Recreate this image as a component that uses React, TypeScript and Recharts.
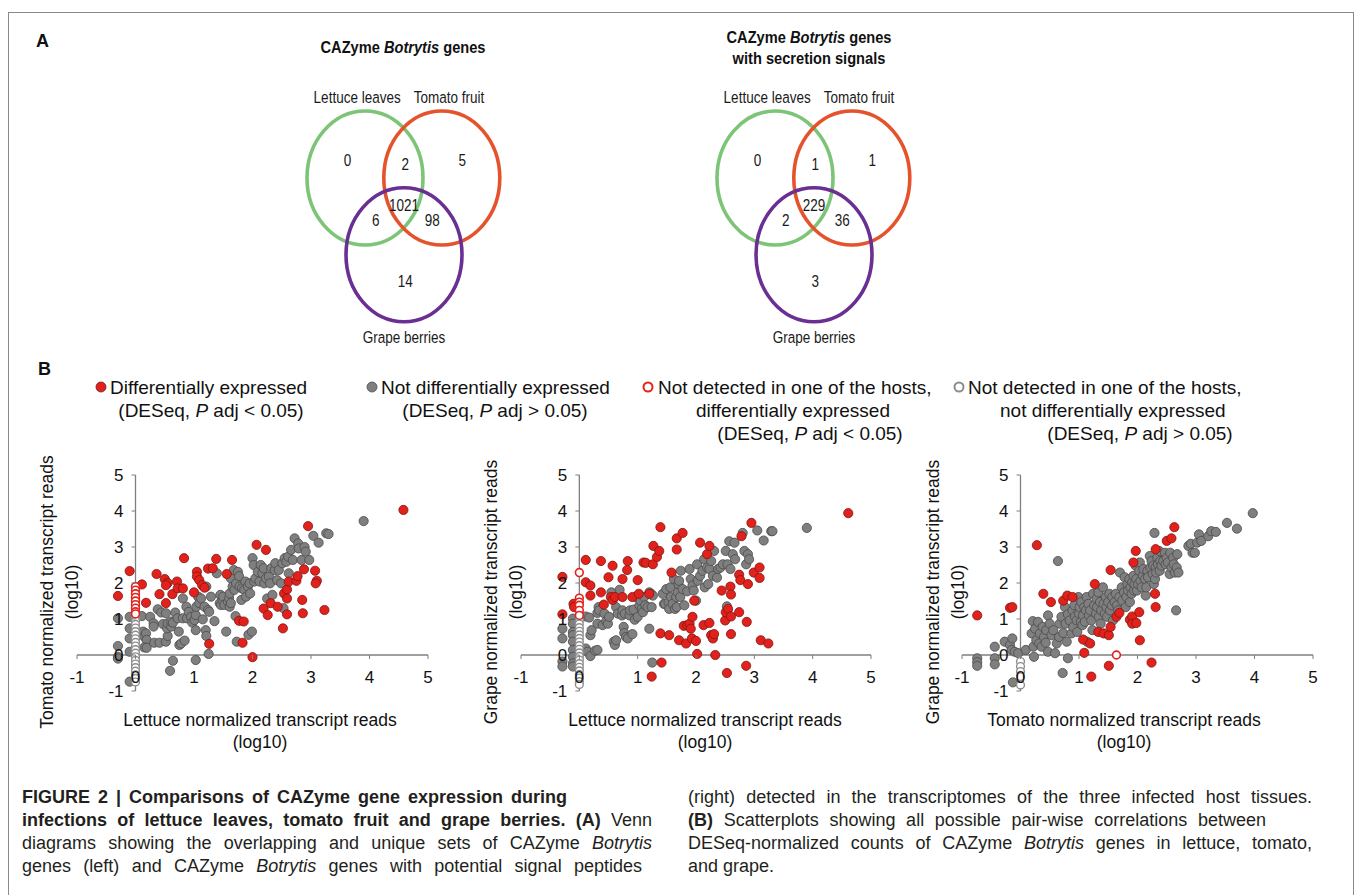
import React from 'react'
import { ScatterChart, Scatter, XAxis, YAxis, ReferenceLine } from 'recharts'

const SANS = '"Liberation Sans", Arial, Helvetica, sans-serif'

type Pt = [number, number]

// ---- Panel A: Venn diagrams ----
const vennSets = ['Lettuce leaves', 'Tomato fruit', 'Grape berries']
const vennColors = ['#7cc576', '#e5532c', '#6a2f92']
const vennCentres: Pt[] = [[-0.65, 0.45], [0.63, 0.45], [0, -0.83]]
const setLabelPos: Pt[] = [[-0.78, 1.8], [0.75, 1.8], [0, -2.2]]
// regions: L only, L+T, T only, all three, L+G, T+G, G only
const regionPos: Pt[] = [[-0.94, 0.75], [0.02, 0.68], [0.97, 0.75], [0, 0], [-0.47, -0.25], [0.47, -0.25], [0.02, -1.27]]
const allGeneCounts = [0, 2, 5, 1021, 6, 98, 14]
const secretedCounts = [0, 1, 1, 229, 2, 36, 3]

// ---- Panel B: scatter plots (log10 normalized reads) ----
const axisTicks = [-1, 0, 1, 2, 3, 4, 5]

// lettuce (x) vs tomato (y)
const ltDE: Pt[] = [
  [-0.1, 2.33], [-0.3, 1.64], [0.11, 1.96], [0.18, 1.45], [0.36, 2.25], [0.41, 1.69], [0.5, 2.11], [0.55, 2.0],
  [0.52, 1.94], [0.52, 1.44], [0.63, 1.69], [0.71, 2.04], [0.72, 1.85], [0.81, 1.85], [0.83, 2.69], [1.0, 1.74],
  [1.05, 2.31], [1.05, 2.18], [1.09, 2.08], [1.14, 1.94], [1.18, 1.87], [1.24, 2.4], [1.32, 2.41], [1.38, 2.67],
  [1.26, 0.31], [1.56, 2.25], [1.65, 2.64], [1.77, 0.95], [1.85, 0.93], [1.83, 0.34], [2.0, -0.06], [2.07, 3.06],
  [2.19, 1.29], [2.23, 2.92], [2.26, 1.11], [2.31, 1.44], [2.43, 1.34], [2.52, 0.74], [2.54, 1.71], [2.59, 1.82],
  [2.59, 1.57], [2.59, 1.13], [2.62, 2.04], [2.75, 2.06], [2.77, 2.19], [2.85, 1.53], [2.86, 1.16], [2.88, 2.38],
  [2.95, 3.58], [3.07, 2.34], [3.1, 2.06], [3.08, 1.99], [3.23, 1.25], [4.58, 4.03],
]
const ltNDE: Pt[] = [
  [-0.1, 1.06], [-0.1, 0.74], [-0.1, 0.46], [-0.1, 0.09], [-0.1, -0.74], [-0.3, 1.02], [-0.3, 0.25], [-0.3, -0.05],
  [-0.3, -0.1], [0.11, 1.08], [0.13, 0.65], [0.15, 0.51], [0.18, 0.6], [0.19, 0.42], [0.15, 0.21], [0.19, 0.2],
  [0.25, 1.06], [0.31, 0.88], [0.31, 0.79], [0.32, 0.34], [0.38, 1.27], [0.41, 0.34], [0.44, 1.18], [0.47, 0.86],
  [0.52, 1.16], [0.52, 0.37], [0.55, 0.53], [0.54, 0.74], [0.55, 0.88], [0.61, 0.79], [0.61, 0.93], [0.64, 0.9],
  [0.59, -0.44], [0.64, -0.16], [0.68, 1.18], [0.72, 1.02], [0.74, 0.65], [0.75, 0.28], [0.78, 0.32], [0.81, 1.02],
  [0.81, 1.57], [0.84, 0.4], [0.87, 1.34], [0.88, 1.02], [0.91, 1.2], [0.95, 1.06], [0.97, 0.9], [1.01, 0.97],
  [1.03, 1.11], [1.03, 0.69], [1.03, -0.14], [1.04, 1.34], [1.07, 1.62], [1.09, 1.44], [1.12, 1.57], [1.15, 0.99],
  [1.18, 1.34], [1.2, 0.69], [1.21, 0.53], [1.21, 1.9], [1.24, 1.25], [1.25, 0.03], [1.26, 1.2], [1.29, 1.62],
  [1.35, 0.94], [1.39, 2.27], [1.44, 1.44], [1.45, 1.67], [1.46, 1.39], [1.49, 1.53], [1.5, 1.62], [1.52, 1.39],
  [1.55, 0.65], [1.58, 1.48], [1.6, 1.57], [1.61, 1.71], [1.61, 1.34], [1.63, 1.44], [1.63, 2.13], [1.66, 1.9],
  [1.68, 2.36], [1.69, 1.81], [1.71, 1.08], [1.72, 1.99], [1.73, 0.37], [1.75, 2.31], [1.77, 2.19], [1.78, 1.9],
  [1.81, 1.53], [1.82, 1.85], [1.86, 1.81], [1.88, 2.04], [1.89, 1.62], [1.92, 1.9], [1.93, 0.56], [1.95, 1.99],
  [1.96, 1.71], [1.99, 0.65], [2.0, 2.69], [2.02, 2.5], [2.03, 2.04], [2.05, 2.13], [2.09, 2.31], [2.12, 2.04],
  [2.14, 2.5], [2.17, 2.27], [2.19, 2.41], [2.2, 1.99], [2.23, 2.13], [2.25, 1.57], [2.28, 2.18], [2.3, 1.99],
  [2.32, 2.41], [2.34, 1.67], [2.38, 2.36], [2.39, 2.55], [2.42, 2.08], [2.45, 2.36], [2.49, 1.99], [2.51, 2.55],
  [2.53, 1.3], [2.55, 2.69], [2.58, 2.59], [2.61, 2.73], [2.62, 2.27], [2.66, 2.92], [2.69, 2.64], [2.72, 3.24],
  [2.78, 3.1], [2.79, 2.96], [2.84, 2.64], [2.89, 3.0], [2.91, 2.87], [2.97, 2.64], [3.04, 3.31], [3.13, 3.12],
  [3.26, 3.38], [3.3, 3.36], [3.9, 3.72],
]
const ltOnlyOneDE = [1.9, 1.8, 1.7, 1.6, 1.5, 1.4, 1.3, 1.2, 1.14]
const ltOnlyOneNDE = [1.05, 0.95, 0.85, 0.75, 0.65, 0.55, 0.45, 0.35, 0.25, 0.15, 0.05, -0.05, -0.15, -0.25, -0.35, -0.45, -0.55, -0.65, -0.75]

// lettuce (x) vs grape (y)
const lgDE: Pt[] = [
  [-0.29, 2.17], [-0.29, 1.13], [-0.1, 1.42], [-0.09, 1.33], [0.11, 2.64], [0.11, 2.02], [0.19, 1.93], [0.19, 1.65],
  [0.37, 2.61], [0.37, 1.74], [0.42, 1.4], [0.5, 2.16], [0.57, 2.48], [0.54, 1.61], [0.57, 1.53], [0.61, 1.61],
  [0.74, 2.11], [0.74, 1.61], [0.82, 2.36], [0.83, 2.61], [0.91, 1.61], [1.0, 2.08], [1.02, 1.7], [1.1, 2.57],
  [1.14, 2.56], [1.2, 1.7], [1.26, 2.52], [1.27, 3.03], [1.33, 2.72], [1.37, 2.89], [1.39, 3.55], [1.39, 0.6],
  [1.41, -0.21], [1.24, -0.6], [1.54, 0.55], [1.58, 2.29], [1.67, 3.24], [1.67, 2.93], [1.71, 0.41], [1.77, 3.39],
  [1.79, 0.81], [1.83, 0.32], [1.85, 0.83], [1.89, 0.87], [1.91, 0.73], [1.93, 0.46], [1.94, 1.06], [1.97, 1.51],
  [2.0, 0.39], [2.02, 0.03], [2.07, 3.12], [2.13, 0.83], [2.19, 2.8], [2.23, 3.03], [2.23, 0.89], [2.26, 0.55],
  [2.29, 0.46], [2.31, 0.58], [2.33, 0.0], [2.44, 1.79], [2.5, 0.96], [2.51, 1.19], [2.53, -0.5], [2.55, 1.28],
  [2.59, 1.9], [2.6, 1.68], [2.6, 1.07], [2.6, 0.58], [2.74, 1.19], [2.74, 2.23], [2.76, 2.08], [2.78, 3.3],
  [2.86, -0.3], [2.87, 0.92], [2.89, 1.97], [2.95, 3.67], [2.99, 2.29], [3.09, 2.43], [3.09, 2.14], [3.11, 0.41],
  [3.24, 0.32], [4.61, 3.94],
]
const lgNDE: Pt[] = [
  [-0.29, 0.73], [-0.29, 0.46], [-0.29, -0.18], [-0.29, -0.32], [-0.11, 1.01], [-0.11, 0.87], [-0.11, 0.64],
  [-0.11, 0.55], [-0.11, 0.37], [-0.11, 0.14], [-0.11, -0.05], [-0.11, -0.23], [-0.11, -0.32], [0.11, 1.07],
  [0.11, 0.18], [0.14, 0.09], [0.17, 1.04], [0.19, 0.55], [0.19, -0.03], [0.21, 0.69], [0.27, 0.12], [0.31, 0.14],
  [0.31, 1.17], [0.31, 0.87], [0.33, 1.33], [0.34, 1.24], [0.4, 0.83], [0.43, 1.15], [0.46, 0.94], [0.49, 0.87],
  [0.51, 1.06], [0.55, 1.74], [0.59, 0.37], [0.61, 0.28], [0.63, 0.41], [0.63, 1.33], [0.66, 1.15], [0.69, 1.81],
  [0.73, 1.1], [0.74, 1.24], [0.76, 0.78], [0.77, 0.61], [0.78, 1.15], [0.8, 0.5], [0.83, 0.46], [0.86, 1.1],
  [0.87, 1.24], [0.91, 0.58], [0.93, 1.26], [0.95, 0.98], [0.97, 1.61], [1.0, 1.06], [1.03, 1.38], [1.05, 1.5],
  [1.07, 1.28], [1.09, 1.19], [1.11, 1.61], [1.13, 1.38], [1.17, 1.33], [1.2, 0.73], [1.2, 1.74], [1.23, 1.7],
  [1.24, 1.33], [1.25, -0.21], [1.26, 1.65], [1.43, 1.7], [1.45, 1.42], [1.47, 1.42], [1.49, 1.83], [1.53, 1.47],
  [1.54, 1.28], [1.56, 1.88], [1.57, 1.61], [1.6, 1.42], [1.62, 2.11], [1.64, 1.28], [1.66, 1.61], [1.67, 1.33],
  [1.69, 1.74], [1.7, 1.97], [1.71, 2.06], [1.73, 1.61], [1.74, 2.34], [1.77, 1.83], [1.8, 1.38], [1.85, 1.77],
  [1.89, 2.39], [1.91, 2.11], [1.94, 1.93], [1.96, 1.79], [2.0, 1.51], [2.02, 2.52], [2.03, 2.06], [2.07, 2.2],
  [2.11, 2.34], [2.14, 2.66], [2.15, 1.88], [2.19, 2.43], [2.21, 1.97], [2.23, 2.39], [2.26, 2.61], [2.29, 2.2],
  [2.31, 2.89], [2.36, 2.15], [2.38, 2.39], [2.42, 2.43], [2.46, 2.52], [2.51, 2.89], [2.53, 1.35], [2.54, 2.52],
  [2.57, 3.16], [2.59, 2.39], [2.63, 2.8], [2.66, 3.12], [2.67, 2.66], [2.8, 3.39], [2.83, 2.89], [2.86, 2.52],
  [2.89, 2.8], [2.91, 2.66], [3.05, 3.46], [3.16, 3.18], [3.29, 3.44], [3.31, 3.44], [3.9, 3.53],
]
const lgOnlyOneDE = [2.29, 1.58, 1.47, 1.38, 1.24, 1.1]
const lgOnlyOneNDE = [0.96, 0.86, 0.76, 0.66, 0.56, 0.46, 0.36, 0.26, 0.16, 0.06, -0.04, -0.14, -0.24, -0.34, -0.44, -0.54, -0.64, -0.74, -0.82]

// tomato (x) vs grape (y)
const tgDE: Pt[] = [
  [-0.74, 1.1], [-0.18, 1.31], [-0.14, 1.33], [0.28, 3.05], [0.39, 1.7], [0.52, 1.47], [0.73, 1.51], [0.8, 1.65],
  [0.89, 1.61], [1.07, 0.43], [1.09, 0.06], [1.19, 0.32], [1.21, -0.6], [1.27, 1.97], [1.33, 0.64], [1.42, 0.6],
  [1.51, 0.55], [1.54, 0.78], [1.54, 2.36], [1.51, -0.3], [1.64, 1.06], [1.69, 1.17], [1.87, 0.98], [1.91, 1.07],
  [1.91, 0.87], [1.93, 2.57], [1.97, 2.89], [1.98, 0.89], [2.03, 1.19], [2.04, 0.41], [2.24, -0.21], [2.3, 1.7],
  [2.31, 2.94], [2.31, 1.33], [2.5, 3.17], [2.58, 3.24], [2.63, 3.55],
]
const tgNDE: Pt[] = [
  [-0.74, -0.09], [-0.74, -0.2], [-0.74, -0.3], [-0.44, 0.23], [-0.44, -0.09], [-0.44, -0.26], [-0.27, 0.37],
  [-0.18, 0.28], [-0.14, 0.46], [-0.15, 0.14], [-0.1, 0.09], [-0.04, 0.05], [-0.13, -0.76], [0.09, 0.14],
  [0.19, 0.6], [0.21, 0.94], [0.22, 0.23], [0.23, -0.05], [0.25, 0.73], [0.27, 0.41], [0.3, 0.92], [0.32, 0.32],
  [0.33, 0.6], [0.36, 0.23], [0.38, 0.78], [0.4, 0.5], [0.43, 0.34], [0.44, 0.69], [0.47, 1.1], [0.47, 0.09],
  [0.5, 0.87], [0.53, 0.55], [0.56, 0.69], [0.59, 0.05], [0.62, 0.32], [0.64, 2.61], [0.66, 0.5], [0.67, 0.87],
  [0.7, 1.06], [0.72, -0.5], [0.73, 0.61], [0.76, 1.33], [0.77, 0.87], [0.79, 0.37], [0.81, -0.09], [0.81, 1.13],
  [0.84, 0.96], [0.87, 0.6], [0.89, 1.24], [0.9, 0.78], [0.92, 1.38], [0.93, 1.07], [0.96, 0.96], [0.97, 0.64],
  [0.99, 1.61], [1.0, 1.15], [1.01, 1.33], [1.03, 0.92], [1.04, 1.47], [1.06, 0.83], [1.07, 1.1], [1.09, 1.33],
  [1.1, 0.92], [1.12, 1.24], [1.13, 1.61], [1.14, 0.37], [1.16, 1.42], [1.17, 1.1], [1.19, 1.24], [1.21, 0.96],
  [1.23, 0.69], [1.24, 1.7], [1.26, 1.38], [1.29, 1.15], [1.3, 1.56], [1.31, 1.33], [1.33, 1.74], [1.34, 1.06],
  [1.36, 1.47], [1.37, 0.87], [1.38, 1.24], [1.41, 1.88], [1.42, 1.42], [1.44, 1.15], [1.46, 1.61], [1.47, 1.33],
  [1.48, 1.06], [1.5, 1.47], [1.52, 1.7], [1.53, 1.24], [1.56, 1.38], [1.57, 1.61], [1.58, 0.96], [1.61, 1.47],
  [1.63, 1.7], [1.65, 1.38], [1.67, 1.24], [1.69, 1.61], [1.7, 2.29], [1.73, 1.88], [1.74, 1.51], [1.77, 1.74],
  [1.78, 2.16], [1.8, 1.33], [1.81, 1.61], [1.83, 1.97], [1.84, 1.79], [1.86, 2.11], [1.87, 1.47], [1.88, 1.88],
  [1.9, 1.7], [1.91, 2.02], [1.93, 2.2], [1.94, 1.79], [1.95, 1.97], [1.97, 2.48], [1.98, 2.11], [1.99, 1.79],
  [2.01, 1.97], [2.03, 2.34], [2.04, 2.57], [2.05, 2.06], [2.07, 1.88], [2.09, 2.2], [2.1, 2.39], [2.13, 2.11],
  [2.14, 1.65], [2.15, 1.88], [2.17, 2.34], [2.18, 2.16], [2.21, 2.75], [2.22, 2.43], [2.24, 2.61], [2.26, 2.25],
  [2.27, 2.48], [2.28, 1.97], [2.29, 3.39], [2.3, 2.11], [2.31, 2.43], [2.32, 2.29], [2.34, 2.7], [2.35, 2.52],
  [2.37, 2.89], [2.38, 2.34], [2.39, 2.61], [2.41, 2.48], [2.44, 2.61], [2.47, 2.84], [2.48, 2.52], [2.5, 2.7],
  [2.52, 2.57], [2.55, 2.25], [2.56, 2.84], [2.58, 2.43], [2.61, 2.7], [2.62, 2.52], [2.64, 2.29], [2.66, 1.24],
  [2.67, 2.43], [2.68, 2.8], [2.7, 2.29], [2.87, 3.03], [2.91, 3.09], [2.94, 2.84], [2.98, 2.84], [3.02, 3.12],
  [3.05, 3.35], [3.09, 3.17], [3.21, 3.3], [3.26, 3.44], [3.34, 3.42], [3.53, 3.67], [3.7, 3.51], [3.97, 3.94],
]
const tgOnlyOneDE: Pt[] = [[1.64, 0.0]]
const tgOnlyOneNDE = [-0.18, -0.32, -0.46, -0.6, -0.83]

// ---- helpers ----
const rows = (pts: Pt[]) => pts.map(([x, y]) => ({ x, y }))
const onAxis = (ys: number[]) => ys.map((y) => ({ x: 0, y }))

const marker = (fill: string, stroke: string, sw: number, r: number) => (p: any) => (
  <circle cx={p.cx} cy={p.cy} r={r} fill={fill} stroke={stroke} strokeWidth={sw} />
)
const redDot = marker('#e3211c', '#7d1710', 0.8, 4.6)
const grayDot = marker('#7f7f7f', '#4a4a4a', 0.8, 4.6)
const redRing = marker('#ffffff', '#e3211c', 1.6, 3.9)
const grayRing = marker('#ffffff', '#8c8c8c', 1.4, 3.9)

const PLOT_H = 216
const AXIS_GREY = '#7f7f7f'
const NARROW = 0.82 // the figure's condensed typeface, imitated by squeezing Liberation Sans

function Venn({ counts }: { counts: number[] }) {
  const circles = vennCentres.map(([x, y], i) => ({ x, y, color: vennColors[i] }))
  const names = setLabelPos.map(([x, y], i) => ({ x, y, label: vennSets[i] }))
  const regions = regionPos.map(([x, y], i) => ({ x, y, label: String(counts[i]) }))
  const text = (p: any) => (
    <text
      transform={`translate(${p.cx},${p.cy}) scale(${NARROW},1)`}
      textAnchor="middle"
      dominantBaseline="central"
      fontSize={16.5}
      fontFamily={SANS}
      fill="#1a1a1a"
    >
      {p.payload.label}
    </text>
  )
  return (
    <ScatterChart width={240} height={300} margin={{ top: 0, right: 0, bottom: 0, left: 0 }}>
      <XAxis type="number" dataKey="x" domain={[-2, 2]} hide />
      <YAxis type="number" dataKey="y" domain={[-2.5, 2.5]} hide />
      <Scatter
        data={circles}
        isAnimationActive={false}
        shape={(p: any) => (
          <ellipse cx={p.cx} cy={p.cy} rx={58} ry={67} fill="none" stroke={p.payload.color} strokeWidth={3.6} />
        )}
      />
      <Scatter data={names} isAnimationActive={false} shape={text} />
      <Scatter data={regions} isAnimationActive={false} shape={text} />
    </ScatterChart>
  )
}

interface PanelProps {
  plotWidth: number
  de: Pt[]
  nde: Pt[]
  oneDE: { x: number; y: number }[]
  oneNDE: number[]
}

function ScatterPanel({ plotWidth, de, nde, oneDE, oneNDE }: PanelProps) {
  const XTick = (p: any) => {
    const y0 = p.y - PLOT_H / 6
    return (
      <g>
        <line x1={p.x} x2={p.x} y1={y0} y2={y0 + 4} stroke={AXIS_GREY} />
        <text x={p.x} y={y0 + 22} textAnchor="middle" dominantBaseline="central" fontSize={17} fontFamily={SANS} fill="#111">
          {p.payload.value}
        </text>
      </g>
    )
  }
  const YTick = (p: any) => {
    const x0 = p.x + plotWidth / 6
    return (
      <g>
        <line x1={x0 - 4} x2={x0} y1={p.y} y2={p.y} stroke={AXIS_GREY} />
        <text x={x0 - 12} y={p.y} textAnchor="end" dominantBaseline="central" fontSize={17} fontFamily={SANS} fill="#111">
          {p.payload.value}
        </text>
      </g>
    )
  }
  return (
    <ScatterChart width={420} height={320} margin={{ top: 35, right: 420 - 57 - plotWidth, bottom: 29, left: 17 }}>
      <XAxis type="number" dataKey="x" domain={[-1, 5]} ticks={axisTicks} interval={0} axisLine={false} tickLine={false} tickSize={0} tickMargin={0} height={40} tick={XTick} />
      <YAxis type="number" dataKey="y" domain={[-1, 5]} ticks={axisTicks} interval={0} axisLine={false} tickLine={false} tickSize={0} tickMargin={0} width={40} tick={YTick} />
      <ReferenceLine y={0} stroke={AXIS_GREY} strokeWidth={1.3} />
      <ReferenceLine x={0} stroke={AXIS_GREY} strokeWidth={1.3} />
      <Scatter data={rows(nde)} isAnimationActive={false} shape={grayDot} />
      <Scatter data={onAxis(oneNDE)} isAnimationActive={false} shape={grayRing} />
      <Scatter data={rows(de)} isAnimationActive={false} shape={redDot} />
      <Scatter data={oneDE} isAnimationActive={false} shape={redRing} />
    </ScatterChart>
  )
}

const abs = (left: number, top: number, extra: React.CSSProperties = {}): React.CSSProperties => ({
  position: 'absolute', left, top, ...extra,
})

function AxisTitles({ xCentre, yCentreX, xLabel, yLabel }: { xCentre: number; yCentreX: number; xLabel: string; yLabel: string }) {
  return (
    <>
      <div style={abs(xCentre - 200, 709, { width: 400, textAlign: 'center', fontSize: 17.5, lineHeight: '22px' })}>
        <div>{xLabel}</div>
        <div>(log10)</div>
      </div>
      <div
        style={abs(yCentreX - 150, 592 - 24, {
          width: 300, height: 48, textAlign: 'center', fontSize: 17.5, lineHeight: '25px', transform: 'rotate(-90deg)',
        })}
      >
        <div>{yLabel}</div>
        <div>(log10)</div>
      </div>
    </>
  )
}

function LegendDot({ x, fill, stroke, sw, r }: { x: number; fill: string; stroke: string; sw: number; r: number }) {
  return (
    <svg style={abs(x - 7, 380)} width={14} height={14}>
      <circle cx={7} cy={7} r={r} fill={fill} stroke={stroke} strokeWidth={sw} />
    </svg>
  )
}

// a squeezed, centred title block (condensed bold type)
function VennTitle({ centre, top, lines }: { centre: number; top: number; lines: React.ReactNode[] }) {
  return (
    <div
      style={abs(centre - 150, top, {
        width: 300, textAlign: 'center', fontWeight: 'bold', fontSize: 17, lineHeight: '21px',
        transform: `scaleX(${NARROW + 0.04})`, transformOrigin: 'center',
      })}
    >
      {lines.map((l, i) => <div key={i}>{l}</div>)}
    </div>
  )
}

const lineStyle = (top: number, left: number, width: number, justify: boolean): React.CSSProperties => ({
  position: 'absolute', top: top - 11.5, left, width, lineHeight: '23px', fontSize: 18,
  textAlign: justify ? 'justify' : 'left', textAlignLast: justify ? 'justify' : 'auto', color: '#231f20',
})

export default function App() {
  const legendText: React.CSSProperties = { fontSize: 19, lineHeight: '23px', whiteSpace: 'nowrap' }
  const centred = (w: number): React.CSSProperties => ({ ...legendText, width: w, textAlign: 'center' })
  return (
    <div style={{ position: 'absolute', left: 0, top: 0, width: 1355, height: 895, overflow: 'hidden', background: '#fff', fontFamily: SANS, color: '#111' }}>
      <div style={abs(8, 12, { width: 1344, height: 1000, border: '1.5px solid #8a8a8a', borderBottom: 'none' })} />

      {/* Panel A */}
      <div style={abs(36, 31, { fontWeight: 'bold', fontSize: 18 })}>A</div>
      <VennTitle centre={403} top={37} lines={[<>CAZyme <i>Botrytis</i> genes</>]} />
      <VennTitle centre={809} top={27} lines={[<>CAZyme <i>Botrytis</i> genes</>, 'with secretion signals']} />
      <div style={abs(284, 55)}>
        <Venn counts={allGeneCounts} />
      </div>
      <div style={abs(694, 55)}>
        <Venn counts={secretedCounts} />
      </div>

      {/* Panel B legend */}
      <div style={abs(38, 359, { fontWeight: 'bold', fontSize: 18 })}>B</div>
      <LegendDot x={101} fill="#e3211c" stroke="#7d1710" sw={0.8} r={5} />
      <div style={abs(110, 376, legendText)}>Differentially expressed</div>
      <div style={abs(111, 399, centred(200))}>(DESeq, <i>P</i> adj &lt; 0.05)</div>

      <LegendDot x={372} fill="#7f7f7f" stroke="#4a4a4a" sw={0.8} r={5} />
      <div style={abs(381, 376, legendText)}>Not differentially expressed</div>
      <div style={abs(395, 399, centred(200))}>(DESeq, <i>P</i> adj &gt; 0.05)</div>

      <LegendDot x={648} fill="#ffffff" stroke="#e3211c" sw={2} r={4.5} />
      <div style={abs(658, 376, legendText)}>Not detected in one of the hosts,</div>
      <div style={abs(693, 399, centred(200))}>differentially expressed</div>
      <div style={abs(710, 422, centred(200))}>(DESeq, <i>P</i> adj &lt; 0.05)</div>

      <LegendDot x={959} fill="#ffffff" stroke="#8c8c8c" sw={2} r={4.5} />
      <div style={abs(968, 376, legendText)}>Not detected in one of the hosts,</div>
      <div style={abs(1000, 399, centred(200))}>not differentially expressed</div>
      <div style={abs(1040, 422, centred(200))}>(DESeq, <i>P</i> adj &gt; 0.05)</div>

      {/* Panel B scatter plots */}
      <div style={abs(20, 440)}>
        <ScatterPanel plotWidth={351} de={ltDE} nde={ltNDE} oneDE={onAxis(ltOnlyOneDE)} oneNDE={ltOnlyOneNDE} />
      </div>
      <div style={abs(464, 440)}>
        <ScatterPanel plotWidth={350} de={lgDE} nde={lgNDE} oneDE={onAxis(lgOnlyOneDE)} oneNDE={lgOnlyOneNDE} />
      </div>
      <div style={abs(905, 440)}>
        <ScatterPanel plotWidth={351} de={tgDE} nde={tgNDE} oneDE={rows(tgOnlyOneDE)} oneNDE={tgOnlyOneNDE} />
      </div>
      <AxisTitles xCentre={260} yCentreX={59} xLabel="Lettuce normalized transcript reads" yLabel="Tomato normalized transcript reads" />
      <AxisTitles xCentre={705} yCentreX={503} xLabel="Lettuce normalized transcript reads" yLabel="Grape normalized transcript reads" />
      <AxisTitles xCentre={1124} yCentreX={945} xLabel="Tomato normalized transcript reads" yLabel="Grape normalized transcript reads" />

      {/* Caption */}
      <div style={{ ...lineStyle(797, 22, 545, true), fontWeight: 'bold' }}>FIGURE 2 | Comparisons of CAZyme gene expression during</div>
      <div style={lineStyle(820, 22, 630, true)}>
        <b>infections of lettuce leaves, tomato fruit and grape berries. (A)</b> Venn
      </div>
      <div style={lineStyle(843, 22, 630, true)}>
        diagrams showing the overlapping and unique sets of CAZyme <i>Botrytis</i>
      </div>
      <div style={lineStyle(866, 22, 620, true)}>
        genes (left) and CAZyme <i>Botrytis</i> genes with potential signal peptides
      </div>
      <div style={lineStyle(797, 688, 624, true)}>
        (right) detected in the transcriptomes of the three infected host tissues.
      </div>
      <div style={lineStyle(820, 688, 578, true)}>
        <b>(B)</b> Scatterplots showing all possible pair-wise correlations between
      </div>
      <div style={lineStyle(843, 688, 624, true)}>
        DESeq-normalized counts of CAZyme <i>Botrytis</i> genes in lettuce, tomato,
      </div>
      <div style={lineStyle(866, 688, 300, false)}>and grape.</div>
    </div>
  )
}
